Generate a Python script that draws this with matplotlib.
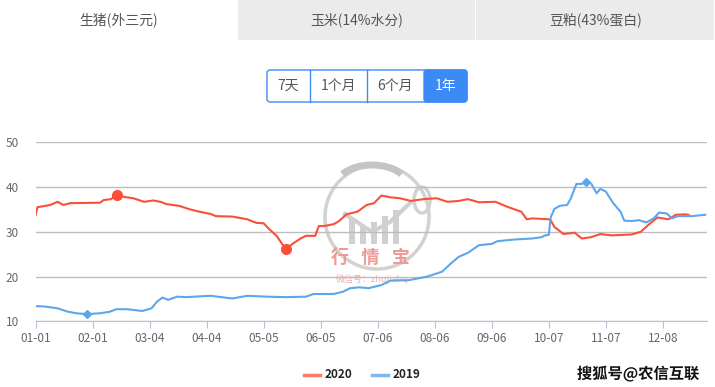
import numpy as np
import matplotlib
matplotlib.use("Agg")
import matplotlib.pyplot as plt
import matplotlib.patheffects as pe
from matplotlib.patches import Rectangle, FancyBboxPatch, Arc

plt.rcParams['font.family'] = ['Noto Sans CJK SC', 'DejaVu Sans']

# tabs / buttons
TABS = ["生猪(外三元)", "玉米(14%水分)", "豆粕(43%蛋白)"]
BUTTONS = ["7天", "1个月", "6个月", "1年"]

# x axis: day index of the year, labelled every 31 days
TICK_LABELS = ["01-01", "02-01", "03-04", "04-04", "05-05", "06-05",
               "07-06", "08-06", "09-06", "10-07", "11-07", "12-08"]

# 2020 price (day index, value)
days_2020 = [0, 1, 8, 12, 15, 19, 35, 37, 41, 44, 48, 53, 59, 64, 68, 71, 78,
             84, 89, 95, 98, 107, 115, 120, 124, 127, 131, 136, 140, 144, 147,
             152, 154, 157, 162, 165, 169, 175, 180, 184, 188, 193, 198, 204,
             211, 218, 224, 230, 235, 241, 250, 257, 264, 267, 270, 279, 280,
             282, 287, 293, 297, 302, 307, 313, 324, 329, 333, 338, 344, 348,
             353, 355]
price_2020 = [33.8, 35.5, 36.0, 36.7, 36.0, 36.4, 36.5, 37.1, 37.3, 38.2, 37.8,
              37.5, 36.7, 37.0, 36.7, 36.2, 35.8, 35.0, 34.5, 34.0, 33.5, 33.4,
              32.8, 32.0, 31.9, 30.6, 29.1, 26.1, 27.4, 28.5, 29.1, 29.1, 31.3,
              31.3, 31.7, 32.4, 33.9, 34.5, 36.0, 36.4, 38.1, 37.7, 37.5, 36.9,
              37.3, 37.5, 36.7, 36.9, 37.3, 36.6, 36.7, 35.5, 34.5, 32.8, 33.0,
              32.8, 32.6, 31.1, 29.5, 29.8, 28.5, 28.8, 29.5, 29.2, 29.4, 30.0,
              31.5, 33.2, 32.8, 33.8, 33.9, 33.8]

# 2019 price
days_2019 = [0, 5, 12, 17, 22, 28, 35, 40, 44, 50, 58, 63, 66, 69, 72, 77, 82,
             95, 107, 115, 126, 136, 147, 151, 162, 167, 171, 176, 181, 188,
             193, 203, 213, 221, 226, 230, 235, 241, 248, 251, 261, 270, 275,
             277, 279, 280, 282, 285, 289, 291, 294, 297, 299, 302, 305, 307,
             310, 314, 318, 320, 324, 328, 332, 336, 339, 343, 346, 349, 355,
             357, 364]
price_2019 = [13.4, 13.3, 12.9, 12.2, 11.8, 11.6, 11.8, 12.1, 12.7, 12.7, 12.3,
              12.9, 14.4, 15.3, 14.8, 15.5, 15.4, 15.7, 15.1, 15.7, 15.5, 15.4,
              15.5, 16.1, 16.1, 16.6, 17.4, 17.6, 17.4, 18.1, 19.1, 19.2, 20.0,
              21.1, 23.0, 24.4, 25.3, 27.0, 27.3, 27.9, 28.3, 28.5, 28.8, 29.2,
              29.3, 33.2, 35.1, 35.8, 36.0, 37.5, 40.7, 40.7, 41.2, 40.8, 38.6,
              39.6, 39.0, 36.4, 34.5, 32.5, 32.4, 32.6, 32.1, 33.0, 34.3, 34.1,
              33.0, 33.5, 33.5, 33.5, 33.8]

RED = "#fb4f3a"
BLUE = "#5ea6ec"

W, H = 715, 387
fig = plt.figure(figsize=(W / 100, H / 100), dpi=100)

# page decoration in pixel coordinates (behind the chart)
ov = fig.add_axes([0, 0, 1, 1], zorder=0)
ov.set_xlim(0, W)
ov.set_ylim(H, 0)
ov.axis('off')

# chart area
ax = fig.add_axes([35.6 / W, 1 - 321.3 / H, 671.4 / W, 179 / H], zorder=2)
ax.patch.set_alpha(0)
ax.plot(days_2020, price_2020, color=RED, lw=1.5, zorder=3)
ax.plot(days_2019, price_2019, color=BLUE, lw=1.5, zorder=3)

# max / min markers
i = int(np.argmax(price_2020)); j = int(np.argmin(price_2020))
ax.plot([days_2020[i], days_2020[j]], [price_2020[i], price_2020[j]], 'o',
        color=RED, ms=7, zorder=4)
i = int(np.argmax(price_2019)); j = int(np.argmin(price_2019))
ax.plot([days_2019[i], days_2019[j]], [price_2019[i], price_2019[j]], 'D',
        color=BLUE, ms=4.5, zorder=4)

ax.set_xlim(0, 365)
ax.set_ylim(10, 50)
ax.set_yticks([10, 20, 30, 40, 50])
ax.set_xticks(np.arange(len(TICK_LABELS)) * 31)
ax.set_xticklabels(TICK_LABELS)
ax.grid(axis='y', color='#bdbdbd', lw=1)
ax.set_axisbelow(True)
for s in ['top', 'right', 'left']:
    ax.spines[s].set_visible(False)
ax.spines['bottom'].set_color('#b3c3d9')
ax.tick_params(axis='x', colors='#b3c3d9', length=5, labelcolor='#666666',
               labelsize=8.5, pad=3)
ax.tick_params(axis='y', length=0, labelcolor='#666666', labelsize=8.5, pad=12)

# watermark on top of the gridlines, under the lines
wm = fig.add_axes([0, 0, 1, 1], zorder=1)
wm.set_xlim(0, W)
wm.set_ylim(H, 0)
wm.axis('off')
wm.patch.set_alpha(0)

top = fig.add_axes([0, 0, 1, 1], zorder=5)
top.set_xlim(0, W)
top.set_ylim(H, 0)
top.axis('off')
top.patch.set_alpha(0)

# tabs
tab_edges = [0, 238, 476, 715]
for k, name in enumerate(TABS):
    x0, x1 = tab_edges[k], tab_edges[k + 1]
    if k > 0:
        ov.add_patch(Rectangle((x0, 0), x1 - x0 - 1, 40, color='#ebebeb', lw=0))
    ov.text((x0 + x1) / 2, 20, name, ha='center', va='center', fontsize=10,
            color='#555555')

# button group
btn_edges = [267, 310, 367, 424, 467]
ov.add_patch(FancyBboxPatch((267, 70), 200, 32, boxstyle="round,pad=0,rounding_size=3",
                            fc='white', ec='#3d8af7', lw=1))
ov.add_patch(FancyBboxPatch((424, 70), 43, 32, boxstyle="round,pad=0,rounding_size=3",
                            fc='#3d8af7', ec='#3d8af7', lw=1))
for k, lab in enumerate(BUTTONS):
    x0, x1 = btn_edges[k], btn_edges[k + 1]
    if 0 < k < 3:
        ov.plot([x0, x0], [70, 102], color='#3d8af7', lw=1)
    ov.text((x0 + x1) / 2, 86, lab, ha='center', va='center', fontsize=10,
            color='white' if k == 3 else '#555555')

# centre watermark (pig logo)
wm.add_patch(Arc((377, 217), 104, 104, theta1=0, theta2=360, color='#d2d2d2', lw=2.5))
wm.add_patch(Arc((372, 185), 70, 40, theta1=200, theta2=340, color='#c4c4c4', lw=5))
wm.add_patch(Arc((422, 200), 16, 26, theta1=0, theta2=360, color='#d2d2d2', lw=2.5))
for k, hgt in enumerate([26, 18, 22, 28, 34]):
    wm.add_patch(Rectangle((349 + k * 11, 244 - hgt), 6, hgt, color='#d0d0d0', lw=0))
wm.plot([345, 372, 390, 410], [214, 232, 222, 203], color='#d0d0d0', lw=3)
wm.text(370, 257, "行   情   宝", ha='center', va='center', fontsize=13,
        color='#ee9a95', fontweight='bold')
wm.text(372, 279, "微信号：zhujiahq", ha='center', va='center', fontsize=6.5,
        color='#f0b0ac')

# legend
top.plot([304, 320], [375, 375], color=RED, lw=2.5, alpha=0.75)
top.text(325, 375, "2020", ha='left', va='center', fontsize=8.5, color='#222222',
         fontweight='bold')
top.plot([372, 388], [375, 375], color=BLUE, lw=2.5, alpha=0.8)
top.text(393, 375, "2019", ha='left', va='center', fontsize=8.5, color='#222222',
         fontweight='bold')

# corner watermark
top.text(638, 374, "搜狐号@农信互联", ha='center', va='center', fontsize=11,
         color='#111111', fontweight='bold',
         path_effects=[pe.withStroke(linewidth=2.5, foreground='white')])

fig.savefig("out.png", dpi=100)
